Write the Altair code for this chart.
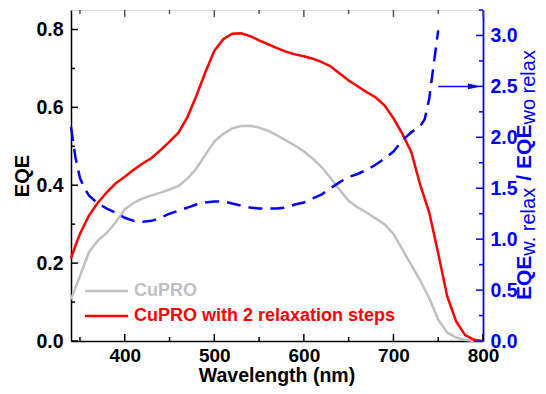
import altair as alt
import pandas as pd

# ---------------- data ----------------
red_wl = [340, 345, 350, 360, 370, 380, 390, 400, 410, 420, 430, 440, 450, 460, 470, 480,
          490, 500, 510, 520, 530, 540, 550, 560, 570, 580, 590, 600, 610, 620, 630, 640,
          650, 660, 670, 680, 690, 700, 710, 720, 730, 740, 750, 760, 770, 780, 790, 800]
red_eqe = [0.212, 0.245, 0.275, 0.322, 0.355, 0.382, 0.405, 0.422, 0.440, 0.456, 0.470, 0.490,
           0.512, 0.535, 0.575, 0.630, 0.690, 0.745, 0.775, 0.789, 0.790, 0.783, 0.772, 0.762,
           0.752, 0.743, 0.736, 0.731, 0.725, 0.716, 0.705, 0.687, 0.669, 0.654, 0.639, 0.626,
           0.605, 0.572, 0.532, 0.485, 0.400, 0.330, 0.225, 0.115, 0.050, 0.015, 0.003, 0.0]

gray_wl = [340, 350, 360, 370, 380, 390, 400, 410, 420, 430, 440, 450, 460, 470, 480, 490,
           500, 510, 520, 530, 540, 550, 560, 570, 580, 590, 600, 610, 620, 630, 640, 650,
           660, 670, 680, 690, 700, 710, 720, 730, 740, 750, 760, 770, 780, 790]
gray_eqe = [0.107, 0.167, 0.228, 0.258, 0.278, 0.305, 0.338, 0.355, 0.366, 0.374, 0.381, 0.389,
            0.398, 0.417, 0.443, 0.478, 0.512, 0.532, 0.546, 0.552, 0.553, 0.548, 0.540, 0.528,
            0.515, 0.502, 0.487, 0.468, 0.446, 0.418, 0.388, 0.360, 0.343, 0.330, 0.315, 0.300,
            0.275, 0.235, 0.195, 0.155, 0.110, 0.055, 0.022, 0.009, 0.003, 0.0]

blue_wl = [340, 345, 350, 355, 360, 370, 380, 390, 400, 410, 420, 430, 440, 450, 460, 470,
           480, 490, 500, 510, 520, 530, 540, 550, 560, 570, 580, 590, 600, 610, 620, 630,
           640, 650, 660, 670, 680, 690, 700, 710, 720, 730, 735, 740, 745, 750]
blue_ratio = [2.10, 1.80, 1.60, 1.50, 1.43, 1.35, 1.30, 1.26, 1.21, 1.18, 1.17, 1.18, 1.21, 1.25,
              1.28, 1.31, 1.34, 1.36, 1.37, 1.37, 1.35, 1.33, 1.31, 1.30, 1.30, 1.30, 1.31, 1.34,
              1.36, 1.40, 1.44, 1.50, 1.56, 1.61, 1.64, 1.68, 1.73, 1.79, 1.86, 1.97, 2.05, 2.11,
              2.18, 2.38, 2.72, 3.05]

x_major = [400, 500, 600, 700, 800]
x_minor = [350, 450, 550, 650, 750]
yl_major = [0.0, 0.2, 0.4, 0.6, 0.8]
yl_minor = [0.1, 0.3, 0.5, 0.7]
yr_major = [0.0, 0.5, 1.0, 1.5, 2.0, 2.5, 3.0]
yr_minor = [0.25, 0.75, 1.25, 1.75, 2.25, 2.75, 3.25]

arrow_from, arrow_to, arrow_level = 750, 786, 2.5
arrow_head = 790.5

series_names = ["CuPRO", "CuPRO with 2 relaxation steps"]
x_title = "Wavelength (nm)"

# ---------------- styling ----------------
FONT = "Liberation Sans"
GRAY = "#c0c0c0"
RED = "#ff0000"
BLUE = "#0000ff"
W, H = 412, 331

x_scale = alt.Scale(domain=[340, 800], nice=False, zero=False)
yl_scale = alt.Scale(domain=[0, 0.85], nice=False, zero=False)
yr_scale = alt.Scale(domain=[0, 3.25], nice=False, zero=False)

x_axis = alt.Axis(values=x_major, format="d", title="", ticks=False, tickSize=0,
                  grid=False, domainColor="black", domainWidth=1.5, labelFont=FONT,
                  labelFontSize=19, labelFontWeight="bold", labelColor="black",
                  labelPadding=5, labelFlush=False)
yl_axis = alt.Axis(values=yl_major, format=".1f", title="EQE", ticks=False, tickSize=0,
                   grid=False, domainColor="black", domainWidth=1.5, labelFont=FONT,
                   labelFontSize=19.5, labelFontWeight="bold", labelColor="black",
                   labelPadding=8, labelFlush=False, titleFont=FONT, titleFontSize=20,
                   titleFontWeight="bold", titleColor="black", titlePadding=3)
yr_axis = alt.Axis(values=yr_major, format=".1f", title="", orient="right", ticks=False,
                   tickSize=0, grid=False, domainColor=BLUE, domainWidth=1.8, labelFont=FONT,
                   labelFontSize=19.5, labelFontWeight="bold", labelColor=BLUE,
                   labelPadding=7, labelFlush=False)

X = alt.X("wl:Q", scale=x_scale, axis=x_axis)
YL = alt.Y("eqe:Q", scale=yl_scale, axis=yl_axis)
YR = alt.Y("ratio:Q", scale=yr_scale, axis=yr_axis)

df_gray = pd.DataFrame({"wl": gray_wl, "eqe": gray_eqe})
df_red = pd.DataFrame({"wl": red_wl, "eqe": red_eqe})
df_blue = pd.DataFrame({"wl": blue_wl, "ratio": blue_ratio})

one = alt.Data(values=[{}])

gray_line = alt.Chart(df_gray).mark_line(color=GRAY, strokeWidth=2.5).encode(x=X, y=YL)
red_line = alt.Chart(df_red).mark_line(color=RED, strokeWidth=2.5).encode(x=X, y=YL)


def xticks(vals, y0, y1, color):
    return alt.Chart(pd.DataFrame({"wl": vals})).mark_rule(color=color, strokeWidth=1.5).encode(
        x=X, y=alt.value(y0), y2=alt.value(y1))


def ylticks(vals, length):
    return alt.Chart(pd.DataFrame({"eqe": vals})).mark_rule(color="black", strokeWidth=1.5).encode(
        y=YL, x=alt.value(0), x2=alt.value(length))


def yrticks(vals, length):
    return alt.Chart(pd.DataFrame({"ratio": vals})).mark_rule(color=BLUE, strokeWidth=1.5).encode(
        y=YR, x=alt.value(W), x2=alt.value(W - length))


def legend_item(color, label, y):
    line = alt.Chart(one).mark_rule(color=color, strokeWidth=2.5).encode(
        x=alt.value(14), x2=alt.value(57), y=alt.value(y))
    txt = alt.Chart(one).mark_text(text=label, color=color, font=FONT, fontSize=18,
                                   fontWeight="bold", align="left", baseline="middle").encode(
        x=alt.value(63), y=alt.value(y))
    return line + txt


x_title_mark = alt.Chart(one).mark_text(
    text=x_title, color="black", font=FONT, fontSize=19.5, fontWeight="bold",
    align="center", baseline="alphabetic").encode(x=alt.value(W / 2), y=alt.value(H + 41))

left_group = alt.layer(
    gray_line, red_line,
    xticks(x_major, H, H - 7, "black"), xticks(x_minor, H, H - 4, "black"),
    xticks(x_major, 0, 7, "#555555"), xticks(x_minor, 0, 4, "#555555"),
    ylticks(yl_major, 7), ylticks(yl_minor, 4),
    legend_item(GRAY, series_names[0], 281),
    legend_item(RED, series_names[1], 306),
    x_title_mark,
)

blue_line = alt.Chart(df_blue).mark_line(color=BLUE, strokeWidth=2.5, strokeDash=[14, 8]).encode(
    x=X, y=YR)

arrow_line = alt.Chart(pd.DataFrame({"wl": [arrow_from], "wl2": [arrow_to], "ratio": [arrow_level]})
                       ).mark_rule(color=BLUE, strokeWidth=1.5).encode(x=X, x2="wl2:Q", y=YR)
arrow_tip = alt.Chart(pd.DataFrame({"wl": [arrow_head], "ratio": [arrow_level]})).mark_point(
    shape="M-1,-0.45L1,0L-1,0.45Z", size=170, filled=True, color=BLUE, opacity=1,
    strokeWidth=0).encode(x=X, y=YR)

# right-hand title: EQE_{w. relax} / EQE_{wo relax}, built from rotated text pieces
# (text, weight, size, width in em, subscript shift, gap after in px)
pieces = [("EQE", "bold", 21, 2.112, 0, 0), ("w. relax", "normal", 20, 3.445, 4, 6),
          ("/", "bold", 21, 0.278, 0, 6), ("EQE", "bold", 21, 2.112, 0, 0),
          ("wo relax", "normal", 20, 3.723, 4, 0)]
title_layers = []
ypos = 290.0
for txt, weight, size, em, shift, gap in pieces:
    title_layers.append(
        alt.Chart(one).mark_text(text=txt, color=BLUE, font=FONT, fontSize=size,
                                 fontWeight=weight, angle=270, align="left",
                                 baseline="alphabetic").encode(
            x=alt.value(460 + shift), y=alt.value(ypos)))
    ypos -= em * size + gap

right_group = alt.layer(
    blue_line, arrow_line, arrow_tip,
    yrticks(yr_major, 7), yrticks(yr_minor, 4),
    *title_layers,
)

chart = alt.layer(left_group, right_group).resolve_scale(y="independent").properties(
    width=W, height=H, autosize="none",
    padding={"left": 63, "top": 2, "right": 55, "bottom": 45},
).configure_view(stroke="#555555", strokeWidth=1.5).configure(background="white")

chart.save("out.html", embed_options={"renderer": "svg", "actions": False})
